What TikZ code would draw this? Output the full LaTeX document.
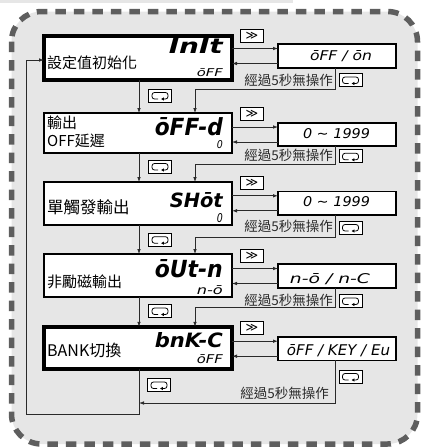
\documentclass[tikz,border=0pt]{standalone}
\usepackage{fontspec}
\usepackage{graphicx}
\usetikzlibrary{arrows.meta,calc}
\newfontfamily\cjk{Noto Sans CJK TC}
\newfontfamily\segf{DejaVu Sans}
\newcommand\seg[3]{\resizebox{#1pt}{#2pt}{\segf\bfseries\itshape #3}}
\newcommand\segl[3]{\resizebox{#1pt}{#2pt}{\segf\itshape #3}}
\definecolor{bgfill}{HTML}{E6E6E6}
\definecolor{dashc}{HTML}{5E5E5E}
\definecolor{linec}{HTML}{2A2A2A}
\begin{document}
\begin{tikzpicture}[x=1pt,y=-1pt,
 mainbox/.style={draw=black,fill=white,minimum width=188pt,inner sep=0pt,outer sep=0pt},
 rbox/.style={draw=black,fill=white,line width=1.8pt,minimum width=118pt,inner sep=0pt,outer sep=0pt},
 conn/.style={draw=linec,line width=0.8pt},
 arr/.style={conn,-{Latex[length=5pt,width=3.6pt]}},
 keybox/.style={draw=black,fill=white,line width=1pt,minimum width=23pt,minimum height=13pt,inner sep=0pt},
 lbl/.style={font=\cjk\fontsize{15}{17}\selectfont,anchor=west,inner sep=0pt},
 tout/.style={font=\cjk\fontsize{13.5}{15}\selectfont,text=linec,anchor=east,inner sep=0pt},
 segnode/.style={inner sep=0pt,anchor=base east},
 segmid/.style={inner sep=0pt,anchor=base},
 reticon/.pic={
   \node[keybox] (-box) at (0,0) {};
   \draw[line width=0.8pt,rounded corners=2.5pt,-{Latex[length=2.8pt,width=3.4pt]}]
     (-2,3.5) -- (-8,3.5) -- (-8,-3) -- (8,-3) -- (8,3.5) -- (1,3.5);
 },
]
\useasboundingbox (0,0) rectangle (421,448);
\fill[bgfill] (0,0) rectangle (293,3);
\draw[dashc,line width=5.5pt,dash pattern=on 10.5pt off 8pt,fill=bgfill,rounded corners=30pt]
  (11.5,11.5) rectangle (417.5,444);

% main boxes
\node[mainbox,line width=3.5pt,minimum height=44pt] (b1) at (138,58) {};
\node[mainbox,line width=2.2pt,minimum height=40pt] (b2) at (138,133) {};
\node[mainbox,line width=2.8pt,minimum height=43pt] (b3) at (138,203.5) {};
\node[mainbox,line width=2.2pt,minimum height=43pt] (b4) at (138,275.5) {};
\node[mainbox,line width=4pt,minimum height=42.5pt] (b5) at (138,348) {};

% right boxes
\node[rbox,minimum height=24pt] (r1) at (337,56) {};
\node[rbox,minimum height=23pt] (r2) at (337,134.5) {};
\node[rbox,minimum height=23.5pt] (r3) at (337,203.3) {};
\node[rbox,minimum height=24pt] (r4) at (337,276) {};
\node[rbox,minimum height=23.5pt] (r5) at (337,348.7) {};

% labels
\node[lbl] (l1) at (47,63) {設定值初始化};
\node[lbl] (l2a) at (47,123) {輸出};
\node[lbl] (l2b) at (47,141) {OFF延遲};
\node[lbl,font=\cjk\fontsize{16.5}{18}\selectfont] (l3) at (47,207) {單觸發輸出};
\node[lbl] (l4) at (47,282) {非勵磁輸出};
\node[lbl,font=\cjk\fontsize{16}{18}\selectfont] (l5) at (47,350) {BANK切換};

% display texts
\node[segnode] (d1) at (223,53) {\seg{54}{15}{InIt}};
\node[segnode] (s1) at (223,76) {\segl{26}{8}{ōFF}};
\node[segnode] (d2) at (223,135) {\seg{68}{18}{ōFF-d}};
\node[segnode] (s2) at (223,148) {\segl{6}{8}{0}};
\node[segnode] (d3) at (223,207) {\seg{53}{15}{SHōt}};
\node[segnode] (s3) at (223,222) {\segl{6}{9}{0}};
\node[segnode] (d4) at (223,277) {\seg{68}{18}{ōUt-n}};
\node[segnode] (s4) at (223,294) {\segl{26}{9}{n-ō}};
\node[segnode] (d5) at (223,347) {\seg{68}{15}{bnK-C}};
\node[segnode] (s5) at (223,363) {\segl{26}{9}{ōFF}};

\node[segmid] (v1) at (341,60) {\segl{62}{10}{ōFF / ōn}};
\node[segmid] (v2) at (336.5,138) {\segl{67}{10}{0 ∼ 1999}};
\node[segmid] (v3) at (336.5,206) {\segl{67}{10}{0 ∼ 1999}};
\node[segmid] (v4) at (330,283) {\segl{80}{10}{n-ō / n-C}};
\node[segmid] (v5) at (338.5,355) {\segl{103}{11}{ōFF / KEY / Eu}};

% helper coordinates
\coordinate (cx) at (139,0);
\coordinate (tx) at (195,0);
\coordinate (sx) at (335,0);
\coordinate (h1) at (0,89.5);
\coordinate (h2) at (0,164.5);
\coordinate (h3) at (0,237.5);
\coordinate (h4) at (0,307.5);
\coordinate (h5) at (0,403);
\coordinate (lp) at (26,414);

% horizontal arrows and key icons
\foreach \i in {1,...,5}{
  \draw[arr] ([yshift=7.5pt]r\i.west -| b\i.east) -- ([yshift=7.5pt]r\i.west);
  \draw[arr] ([yshift=-7.5pt]r\i.west) -- ([yshift=-7.5pt]r\i.west -| b\i.east);
  \node[keybox,font=\segf\fontsize{12}{12}\selectfont] (k\i) at ($([yshift=7.5pt]r\i.west)+(-26,-13)$) {≫};
}

% downward arrows
\foreach \i/\j in {1/2,2/3,3/4,4/5}{
  \draw[arr] (b\i.south -| cx) -- (b\j.north -| cx);
  \draw[arr] (r\i.south -| sx) |- (tx |- h\i) -- (b\j.north -| tx);
}
\draw[arr] (r5.south -| sx) |- (cx |- h5);
\draw[arr] (b5.south -| cx) |- (lp) |- ([yshift=-2pt]b1.west);

% return icons
\pic (c1) at (160,95.5) {reticon};
\pic (c2) at (160,166.5) {reticon};
\pic (c3) at (160,239.7) {reticon};
\pic (c4) at (160,311) {reticon};
\pic (c5) at (159,385) {reticon};
\pic (t1) at (350.5,80) {reticon};
\pic (t2) at (350.5,156.3) {reticon};
\pic (t3) at (350.5,227.5) {reticon};
\pic (t4) at (350.5,301) {reticon};
\pic (t5) at (350.5,376.5) {reticon};

% timeout texts
\node[tout] (o1) at (333,80) {經過5秒無操作};
\node[tout] (o2) at (333,155.7) {經過5秒無操作};
\node[tout] (o3) at (333,226.7) {經過5秒無操作};
\node[tout] (o4) at (333,300) {經過5秒無操作};
\node[tout] (o5) at (329,393) {經過5秒無操作};
\end{tikzpicture}
\end{document}
